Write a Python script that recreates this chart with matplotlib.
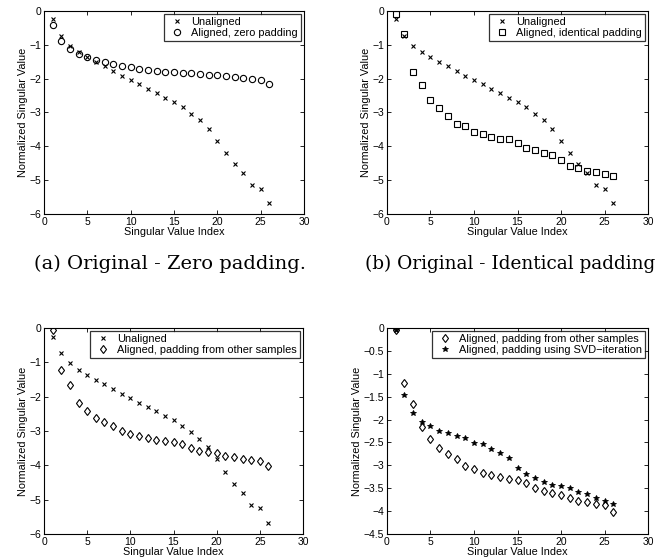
import matplotlib
matplotlib.use('Agg')
import matplotlib.pyplot as plt
from matplotlib.ticker import FuncFormatter

plt.rcParams['font.family'] = ['Liberation Sans', 'DejaVu Sans']
plt.rcParams['axes.unicode_minus'] = True

index = list(range(1, 27))

unaligned = [-0.25, -0.74, -1.02, -1.22, -1.37, -1.51, -1.64, -1.77, -1.92, -2.05,
             -2.17, -2.30, -2.43, -2.56, -2.69, -2.85, -3.03, -3.23, -3.48, -3.83,
             -4.19, -4.53, -4.80, -5.15, -5.25, -5.68]
zero_pad = [-0.41, -0.90, -1.11, -1.27, -1.37, -1.46, -1.52, -1.57, -1.63, -1.66,
            -1.71, -1.74, -1.77, -1.79, -1.81, -1.83, -1.84, -1.86, -1.88, -1.90,
            -1.92, -1.94, -1.97, -2.01, -2.05, -2.16]
identical_pad = [-0.09, -0.69, -1.79, -2.19, -2.62, -2.87, -3.11, -3.35, -3.40, -3.58,
                 -3.64, -3.72, -3.78, -3.78, -3.91, -4.05, -4.12, -4.20, -4.25, -4.41,
                 -4.57, -4.64, -4.74, -4.75, -4.81, -4.89]
other_pad = [-0.05, -1.21, -1.67, -2.17, -2.43, -2.63, -2.75, -2.86, -3.01, -3.08,
             -3.16, -3.21, -3.25, -3.30, -3.33, -3.38, -3.49, -3.57, -3.61, -3.64,
             -3.72, -3.77, -3.81, -3.84, -3.87, -4.02]
svd_pad = [-0.05, -1.46, -1.85, -2.06, -2.13, -2.25, -2.29, -2.36, -2.41, -2.52,
           -2.54, -2.64, -2.72, -2.83, -3.06, -3.18, -3.28, -3.36, -3.43, -3.46,
           -3.50, -3.58, -3.63, -3.72, -3.77, -3.85]

captions = ['(a) Original - Zero padding.', '(b) Original - Identical padding']

W, H = 666, 560
fig = plt.figure(figsize=(W / 100, H / 100), dpi=100)


def px_axes(left, top, right, bottom):
    return fig.add_axes([left / W, 1 - bottom / H, (right - left) / W, (bottom - top) / H])


def fmt(v, pos):
    return ('%g' % v).replace('-', '\u2212')


def style(ax, ylim, yticks):
    ax.set_xlim(0, 30)
    ax.set_xticks(range(0, 31, 5))
    ax.set_ylim(*ylim)
    ax.set_yticks(yticks)
    ax.yaxis.set_major_formatter(FuncFormatter(fmt))
    ax.tick_params(direction='in', top=True, right=True, length=3, width=0.6,
                   labelsize=7.5, pad=2)
    for s in ax.spines.values():
        s.set_linewidth(0.8)
    ax.set_xlabel('Singular Value Index', fontsize=7.8, labelpad=0)
    ax.set_ylabel('Normalized Singular Value', fontsize=7.8, labelpad=1)


def legend(ax):
    leg = ax.legend(loc='upper right', fontsize=7.9, frameon=True, fancybox=False,
                    borderaxespad=0.25, handletextpad=0.45, borderpad=0.3,
                    labelspacing=0.1, handlelength=1.7)
    leg.get_frame().set_edgecolor('black')
    leg.get_frame().set_linewidth(0.9)


yt6 = [0, -1, -2, -3, -4, -5, -6]
yt45 = [0, -0.5, -1, -1.5, -2, -2.5, -3, -3.5, -4, -4.5]

# (a)
ax = px_axes(44, 11, 304, 214)
ax.plot(index, unaligned, 'x', color='black', ms=3, mew=0.8, label='Unaligned')
ax.plot(index, zero_pad, 'o', mfc='none', mec='black', ms=4.5, mew=0.8,
        label='Aligned, zero padding')
style(ax, (-6, 0), yt6)
legend(ax)

# (b)
ax = px_axes(387, 11, 648, 214)
ax.plot(index, unaligned, 'x', color='black', ms=3, mew=0.8, label='Unaligned')
ax.plot(index, identical_pad, 's', mfc='none', mec='black', ms=4, mew=0.8,
        label='Aligned, identical padding')
style(ax, (-6, 0), yt6)
legend(ax)

# (c)
ax = px_axes(44, 328, 303, 534)
ax.plot(index, unaligned, 'x', color='black', ms=3, mew=0.8, label='Unaligned')
ax.plot(index, other_pad, 'd', mfc='none', mec='black', ms=4.5, mew=0.8,
        label='Aligned, padding from other samples')
style(ax, (-6, 0), yt6)
legend(ax)

# (d)
ax = px_axes(387, 328, 648, 534)
ax.plot(index, other_pad, 'd', mfc='none', mec='black', ms=4.5, mew=0.8,
        label='Aligned, padding from other samples')
ax.plot(index, svd_pad, '*', color='black', ms=4, mew=0.6,
        label='Aligned, padding using SVD\u2212iteration')
style(ax, (-4.5, 0), yt45)
legend(ax)

fig.text(34 / W, 1 - 264 / H, captions[0], fontsize=14, family='DejaVu Serif', va='center')
fig.text(365 / W, 1 - 264 / H, captions[1], fontsize=13.3, family='DejaVu Serif', va='center')

fig.savefig('out.png', dpi=100)
